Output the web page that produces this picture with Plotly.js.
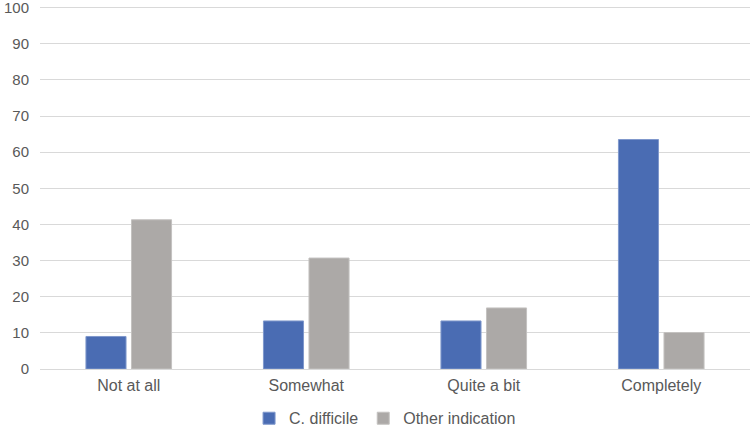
<!DOCTYPE html>
<html><head><meta charset="utf-8">
<script src="https://cdn.plot.ly/plotly-3.0.1.min.js"></script>
<style>html,body{margin:0;padding:0;background:#fff}#chart{width:752px;height:426px}</style>
</head><body><div id="chart"></div>
<script>
const categories = ["Not at all", "Somewhat", "Quite a bit", "Completely"];
const cDifficile = [9.0, 13.3, 13.3, 63.5];
const otherIndication = [41.3, 30.7, 16.9, 10.1];
const seriesNames = ["C. difficile", "Other indication"];

const data = [
  {type:"bar", x:categories, y:cDifficile, name:seriesNames[0],
   marker:{color:"#4a6cb3", line:{color:"#7f98cc", width:1}}},
  {type:"bar", x:categories, y:otherIndication, name:seriesNames[1],
   marker:{color:"#aca9a7", line:{color:"#c4c2c0", width:1}}}
];
const layout = {
  width:752, height:426,
  margin:{l:40, r:2, t:4, b:57, autoexpand:false},
  paper_bgcolor:"#fff", plot_bgcolor:"#fff",
  font:{family:"Liberation Sans, Arial, sans-serif", size:15, color:"#595959"},
  barmode:"group", bargap:0.487, bargroupgap:0.12,
  xaxis:{showgrid:false, showline:false, ticks:"", ticklabelstandoff:5,
         tickfont:{size:16, color:"#595959"}, automargin:false},
  yaxis:{range:[0,101], tickvals:[0,10,20,30,40,50,60,70,80,90,100],
         showgrid:true, gridcolor:"#d9d9d9", gridwidth:1,
         zeroline:true, zerolinecolor:"#d9d9d9", zerolinewidth:1,
         ticks:"", ticklabelstandoff:10, ticklabeloverflow:"allow",
         tickfont:{size:15, color:"#595959"}, automargin:false},
  showlegend:true,
  legend:{orientation:"h", x:0.486, xanchor:"center", yref:"container", y:0.018, yanchor:"middle",
          font:{size:16, color:"#595959"}, itemwidth:30, traceorder:"normal"}
};
Plotly.newPlot("chart", data, layout, {displayModeBar:false, staticPlot:true});
</script></body></html>
